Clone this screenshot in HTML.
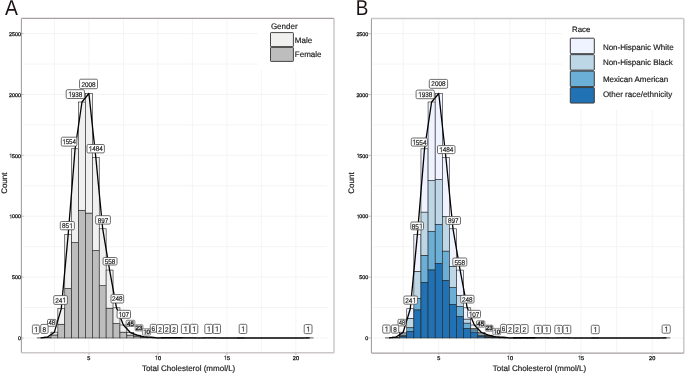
<!DOCTYPE html><html><head><meta charset="utf-8"><style>html,body{margin:0;padding:0;background:#fff;}svg{display:block;will-change:transform;}text{font-family:"Liberation Sans", sans-serif;text-rendering:geometricPrecision;fill:#1c1c1c;stroke:#1c1c1c;stroke-width:0.18px;}</style></head><body>
<svg width="685" height="373" viewBox="0 0 685 373">
<rect width="685" height="373" fill="#fff"/>
<rect x="21.4" y="18.4" width="312.8" height="334.6" fill="#fff"/>
<line x1="54.40" y1="18.4" x2="54.40" y2="353.0" stroke="#f5f4f2" stroke-width="1.0"/>
<line x1="88.90" y1="18.4" x2="88.90" y2="353.0" stroke="#f5f4f2" stroke-width="1.0"/>
<line x1="123.40" y1="18.4" x2="123.40" y2="353.0" stroke="#f5f4f2" stroke-width="1.0"/>
<line x1="157.90" y1="18.4" x2="157.90" y2="353.0" stroke="#f5f4f2" stroke-width="1.0"/>
<line x1="192.40" y1="18.4" x2="192.40" y2="353.0" stroke="#f5f4f2" stroke-width="1.0"/>
<line x1="226.90" y1="18.4" x2="226.90" y2="353.0" stroke="#f5f4f2" stroke-width="1.0"/>
<line x1="261.40" y1="18.4" x2="261.40" y2="353.0" stroke="#f5f4f2" stroke-width="1.0"/>
<line x1="295.90" y1="18.4" x2="295.90" y2="353.0" stroke="#f5f4f2" stroke-width="1.0"/>
<line x1="23.5" y1="338.00" x2="327.1" y2="338.00" stroke="#f5f4f2" stroke-width="1.0"/>
<line x1="23.5" y1="307.56" x2="327.1" y2="307.56" stroke="#f5f4f2" stroke-width="1.0"/>
<line x1="23.5" y1="277.12" x2="327.1" y2="277.12" stroke="#f5f4f2" stroke-width="1.0"/>
<line x1="23.5" y1="246.68" x2="327.1" y2="246.68" stroke="#f5f4f2" stroke-width="1.0"/>
<line x1="23.5" y1="216.24" x2="327.1" y2="216.24" stroke="#f5f4f2" stroke-width="1.0"/>
<line x1="23.5" y1="185.80" x2="327.1" y2="185.80" stroke="#f5f4f2" stroke-width="1.0"/>
<line x1="23.5" y1="155.36" x2="327.1" y2="155.36" stroke="#f5f4f2" stroke-width="1.0"/>
<line x1="23.5" y1="124.92" x2="327.1" y2="124.92" stroke="#f5f4f2" stroke-width="1.0"/>
<line x1="23.5" y1="94.48" x2="327.1" y2="94.48" stroke="#f5f4f2" stroke-width="1.0"/>
<line x1="23.5" y1="64.04" x2="327.1" y2="64.04" stroke="#f5f4f2" stroke-width="1.0"/>
<line x1="23.5" y1="33.60" x2="327.1" y2="33.60" stroke="#f5f4f2" stroke-width="1.0"/>
<rect x="258.2" y="18.4" width="76.0" height="51.6" fill="#fff"/>
<rect x="37.15" y="337.88" width="6.90" height="0.12" fill="#BDBDBD" stroke="#222" stroke-width="0.6"/>
<rect x="37.15" y="337.88" width="6.90" height="0.00" fill="#F0F0F0" stroke="#222" stroke-width="0.6"/>
<rect x="44.05" y="337.39" width="6.90" height="0.61" fill="#BDBDBD" stroke="#222" stroke-width="0.6"/>
<rect x="44.05" y="337.03" width="6.90" height="0.37" fill="#F0F0F0" stroke="#222" stroke-width="0.6"/>
<rect x="50.95" y="334.96" width="6.90" height="3.04" fill="#BDBDBD" stroke="#222" stroke-width="0.6"/>
<rect x="50.95" y="332.16" width="6.90" height="2.80" fill="#F0F0F0" stroke="#222" stroke-width="0.6"/>
<rect x="57.85" y="324.24" width="6.90" height="13.76" fill="#BDBDBD" stroke="#222" stroke-width="0.6"/>
<rect x="57.85" y="308.66" width="6.90" height="15.59" fill="#F0F0F0" stroke="#222" stroke-width="0.6"/>
<rect x="64.75" y="288.44" width="6.90" height="49.56" fill="#BDBDBD" stroke="#222" stroke-width="0.6"/>
<rect x="64.75" y="234.38" width="6.90" height="54.06" fill="#F0F0F0" stroke="#222" stroke-width="0.6"/>
<rect x="71.65" y="242.54" width="6.90" height="95.46" fill="#BDBDBD" stroke="#222" stroke-width="0.6"/>
<rect x="71.65" y="148.78" width="6.90" height="93.76" fill="#F0F0F0" stroke="#222" stroke-width="0.6"/>
<rect x="78.55" y="210.27" width="6.90" height="127.73" fill="#BDBDBD" stroke="#222" stroke-width="0.6"/>
<rect x="78.55" y="102.03" width="6.90" height="108.24" fill="#F0F0F0" stroke="#222" stroke-width="0.6"/>
<rect x="85.45" y="213.07" width="6.90" height="124.93" fill="#BDBDBD" stroke="#222" stroke-width="0.6"/>
<rect x="85.45" y="93.51" width="6.90" height="119.57" fill="#F0F0F0" stroke="#222" stroke-width="0.6"/>
<rect x="92.35" y="250.45" width="6.90" height="87.55" fill="#BDBDBD" stroke="#222" stroke-width="0.6"/>
<rect x="92.35" y="157.31" width="6.90" height="93.15" fill="#F0F0F0" stroke="#222" stroke-width="0.6"/>
<rect x="99.25" y="285.64" width="6.90" height="52.36" fill="#BDBDBD" stroke="#222" stroke-width="0.6"/>
<rect x="99.25" y="228.78" width="6.90" height="56.86" fill="#F0F0F0" stroke="#222" stroke-width="0.6"/>
<rect x="106.15" y="308.17" width="6.90" height="29.83" fill="#BDBDBD" stroke="#222" stroke-width="0.6"/>
<rect x="106.15" y="270.06" width="6.90" height="38.11" fill="#F0F0F0" stroke="#222" stroke-width="0.6"/>
<rect x="113.05" y="323.51" width="6.90" height="14.49" fill="#BDBDBD" stroke="#222" stroke-width="0.6"/>
<rect x="113.05" y="307.80" width="6.90" height="15.71" fill="#F0F0F0" stroke="#222" stroke-width="0.6"/>
<rect x="119.95" y="332.16" width="6.90" height="5.84" fill="#BDBDBD" stroke="#222" stroke-width="0.6"/>
<rect x="119.95" y="324.97" width="6.90" height="7.18" fill="#F0F0F0" stroke="#222" stroke-width="0.6"/>
<rect x="126.85" y="335.08" width="6.90" height="2.92" fill="#BDBDBD" stroke="#222" stroke-width="0.6"/>
<rect x="126.85" y="332.52" width="6.90" height="2.56" fill="#F0F0F0" stroke="#222" stroke-width="0.6"/>
<rect x="133.75" y="336.54" width="6.90" height="1.46" fill="#BDBDBD" stroke="#222" stroke-width="0.6"/>
<rect x="133.75" y="335.20" width="6.90" height="1.34" fill="#F0F0F0" stroke="#222" stroke-width="0.6"/>
<rect x="140.65" y="337.39" width="6.90" height="0.61" fill="#BDBDBD" stroke="#222" stroke-width="0.6"/>
<rect x="140.65" y="336.78" width="6.90" height="0.61" fill="#F0F0F0" stroke="#222" stroke-width="0.6"/>
<rect x="147.55" y="337.63" width="6.90" height="0.37" fill="#BDBDBD" stroke="#222" stroke-width="0.6"/>
<rect x="147.55" y="337.27" width="6.90" height="0.37" fill="#F0F0F0" stroke="#222" stroke-width="0.6"/>
<rect x="161.35" y="337.88" width="6.90" height="0.12" fill="#BDBDBD" stroke="#222" stroke-width="0.6"/>
<rect x="161.35" y="337.76" width="6.90" height="0.12" fill="#F0F0F0" stroke="#222" stroke-width="0.6"/>
<rect x="168.25" y="337.88" width="6.90" height="0.12" fill="#BDBDBD" stroke="#222" stroke-width="0.6"/>
<rect x="168.25" y="337.76" width="6.90" height="0.12" fill="#F0F0F0" stroke="#222" stroke-width="0.6"/>
<rect x="175.15" y="337.88" width="6.90" height="0.12" fill="#BDBDBD" stroke="#222" stroke-width="0.6"/>
<rect x="175.15" y="337.76" width="6.90" height="0.12" fill="#F0F0F0" stroke="#222" stroke-width="0.6"/>
<rect x="182.05" y="337.88" width="6.90" height="0.12" fill="#BDBDBD" stroke="#222" stroke-width="0.6"/>
<rect x="182.05" y="337.88" width="6.90" height="0.00" fill="#F0F0F0" stroke="#222" stroke-width="0.6"/>
<rect x="188.95" y="338.00" width="6.90" height="0.00" fill="#BDBDBD" stroke="#222" stroke-width="0.6"/>
<rect x="188.95" y="337.88" width="6.90" height="0.12" fill="#F0F0F0" stroke="#222" stroke-width="0.6"/>
<rect x="202.75" y="337.88" width="6.90" height="0.12" fill="#BDBDBD" stroke="#222" stroke-width="0.6"/>
<rect x="202.75" y="337.88" width="6.90" height="0.00" fill="#F0F0F0" stroke="#222" stroke-width="0.6"/>
<rect x="209.65" y="338.00" width="6.90" height="0.00" fill="#BDBDBD" stroke="#222" stroke-width="0.6"/>
<rect x="209.65" y="337.88" width="6.90" height="0.12" fill="#F0F0F0" stroke="#222" stroke-width="0.6"/>
<rect x="237.25" y="337.88" width="6.90" height="0.12" fill="#BDBDBD" stroke="#222" stroke-width="0.6"/>
<rect x="237.25" y="337.88" width="6.90" height="0.00" fill="#F0F0F0" stroke="#222" stroke-width="0.6"/>
<rect x="306.25" y="337.88" width="6.90" height="0.12" fill="#BDBDBD" stroke="#222" stroke-width="0.6"/>
<rect x="306.25" y="337.88" width="6.90" height="0.00" fill="#F0F0F0" stroke="#222" stroke-width="0.6"/>
<polyline points="40.60,337.88 47.50,337.03 54.40,332.16 61.30,308.66 68.20,234.38 75.10,148.78 82.00,102.03 88.90,93.51 95.80,157.31 102.70,228.78 109.60,270.06 116.50,307.80 123.40,324.97 130.30,332.52 137.20,335.20 144.10,336.78 151.00,337.27 157.90,338.00 164.80,337.76 171.70,337.76 178.60,337.76 185.50,337.88 192.40,337.88 199.30,338.00 206.20,337.88 213.10,337.88 220.00,338.00 226.90,338.00 233.80,338.00 240.70,337.88 247.60,338.00 254.50,338.00 261.40,338.00 268.30,338.00 275.20,338.00 282.10,338.00 289.00,338.00 295.90,338.00 302.80,338.00 309.70,337.88" fill="none" stroke="#000" stroke-width="1.3" stroke-linejoin="round"/>
<rect x="32.40" y="325.00" width="7.00" height="8.80" rx="1.3" fill="#fff" stroke="#4a4a4a" stroke-width="0.8"/>
<path d="M36.03,331.90 L36.64,331.90 L36.64,327.03 L36.19,327.03 Z M36.19,327.03 L36.48,327.14 L36.03,327.65 L34.81,328.50 L34.81,327.92 L35.71,327.38 Z" fill="#1c1c1c" stroke="#1c1c1c" stroke-width="0.18" stroke-linejoin="round"/>
<rect x="47.50" y="319.40" width="8.60" height="6.90" rx="1.3" fill="#fff" stroke="#4a4a4a" stroke-width="0.8"/>
<text transform="translate(50.12,325.45) scale(0.886,1)" font-size="6.8" text-anchor="middle">4</text>
<text transform="translate(53.47,325.45) scale(0.886,1)" font-size="6.8" text-anchor="middle">8</text>
<rect x="40.70" y="324.40" width="7.40" height="9.00" rx="1.3" fill="#fff" stroke="#4a4a4a" stroke-width="0.8"/>
<text transform="translate(44.40,331.50) scale(0.940,1)" font-size="6.8" text-anchor="middle">8</text>
<rect x="53.75" y="295.60" width="13.65" height="8.80" rx="1.3" fill="#fff" stroke="#4a4a4a" stroke-width="0.8"/>
<text transform="translate(57.02,302.60) scale(0.940,1)" font-size="6.8" text-anchor="middle">2</text>
<text transform="translate(60.58,302.60) scale(0.940,1)" font-size="6.8" text-anchor="middle">4</text>
<path d="M64.26,302.60 L64.86,302.60 L64.86,297.73 L64.42,297.73 Z M64.42,297.73 L64.70,297.84 L64.26,298.35 L63.04,299.20 L63.04,298.62 L63.94,298.08 Z" fill="#1c1c1c" stroke="#1c1c1c" stroke-width="0.18" stroke-linejoin="round"/>
<rect x="60.30" y="221.50" width="14.10" height="8.30" rx="1.3" fill="#fff" stroke="#4a4a4a" stroke-width="0.8"/>
<text transform="translate(63.80,228.25) scale(0.940,1)" font-size="6.8" text-anchor="middle">8</text>
<text transform="translate(67.35,228.25) scale(0.940,1)" font-size="6.8" text-anchor="middle">5</text>
<path d="M71.03,228.25 L71.64,228.25 L71.64,223.38 L71.19,223.38 Z M71.19,223.38 L71.48,223.49 L71.03,224.00 L69.82,224.85 L69.82,224.27 L70.71,223.73 Z" fill="#1c1c1c" stroke="#1c1c1c" stroke-width="0.18" stroke-linejoin="round"/>
<rect x="61.30" y="137.20" width="15.60" height="8.90" rx="1.3" fill="#fff" stroke="#4a4a4a" stroke-width="0.8"/>
<path d="M64.09,144.25 L64.67,144.25 L64.67,139.38 L64.24,139.38 Z M64.24,139.38 L64.52,139.49 L64.09,140.00 L62.92,140.85 L62.92,140.27 L63.78,139.73 Z" fill="#1c1c1c" stroke="#1c1c1c" stroke-width="0.18" stroke-linejoin="round"/>
<text transform="translate(67.39,144.25) scale(0.906,1)" font-size="6.8" text-anchor="middle">5</text>
<text transform="translate(70.81,144.25) scale(0.906,1)" font-size="6.8" text-anchor="middle">5</text>
<text transform="translate(74.24,144.25) scale(0.906,1)" font-size="6.8" text-anchor="middle">4</text>
<rect x="66.20" y="89.70" width="18.20" height="8.80" rx="1.3" fill="#fff" stroke="#4a4a4a" stroke-width="0.8"/>
<path d="M70.10,96.70 L70.70,96.70 L70.70,91.83 L70.26,91.83 Z M70.26,91.83 L70.54,91.94 L70.10,92.45 L68.88,93.30 L68.88,92.72 L69.78,92.18 Z" fill="#1c1c1c" stroke="#1c1c1c" stroke-width="0.18" stroke-linejoin="round"/>
<text transform="translate(73.52,96.70) scale(0.940,1)" font-size="6.8" text-anchor="middle">9</text>
<text transform="translate(77.08,96.70) scale(0.940,1)" font-size="6.8" text-anchor="middle">3</text>
<text transform="translate(80.63,96.70) scale(0.940,1)" font-size="6.8" text-anchor="middle">8</text>
<rect x="79.55" y="79.20" width="17.95" height="9.50" rx="1.3" fill="#fff" stroke="#4a4a4a" stroke-width="0.8"/>
<text transform="translate(83.19,86.55) scale(0.940,1)" font-size="6.8" text-anchor="middle">2</text>
<text transform="translate(86.75,86.55) scale(0.940,1)" font-size="6.8" text-anchor="middle">0</text>
<text transform="translate(90.30,86.55) scale(0.940,1)" font-size="6.8" text-anchor="middle">0</text>
<text transform="translate(93.86,86.55) scale(0.940,1)" font-size="6.8" text-anchor="middle">8</text>
<rect x="87.00" y="144.50" width="17.40" height="8.40" rx="1.3" fill="#fff" stroke="#4a4a4a" stroke-width="0.8"/>
<path d="M90.50,151.30 L91.10,151.30 L91.10,146.43 L90.66,146.43 Z M90.66,146.43 L90.94,146.54 L90.50,147.05 L89.28,147.90 L89.28,147.32 L90.18,146.78 Z" fill="#1c1c1c" stroke="#1c1c1c" stroke-width="0.18" stroke-linejoin="round"/>
<text transform="translate(93.92,151.30) scale(0.940,1)" font-size="6.8" text-anchor="middle">4</text>
<text transform="translate(97.48,151.30) scale(0.940,1)" font-size="6.8" text-anchor="middle">8</text>
<text transform="translate(101.03,151.30) scale(0.940,1)" font-size="6.8" text-anchor="middle">4</text>
<rect x="95.60" y="215.70" width="14.80" height="8.40" rx="1.3" fill="#fff" stroke="#4a4a4a" stroke-width="0.8"/>
<text transform="translate(99.45,222.50) scale(0.940,1)" font-size="6.8" text-anchor="middle">8</text>
<text transform="translate(103.00,222.50) scale(0.940,1)" font-size="6.8" text-anchor="middle">9</text>
<text transform="translate(106.55,222.50) scale(0.940,1)" font-size="6.8" text-anchor="middle">7</text>
<rect x="103.10" y="257.50" width="13.90" height="7.50" rx="1.3" fill="#fff" stroke="#4a4a4a" stroke-width="0.8"/>
<text transform="translate(106.50,263.85) scale(0.940,1)" font-size="6.8" text-anchor="middle">5</text>
<text transform="translate(110.05,263.85) scale(0.940,1)" font-size="6.8" text-anchor="middle">5</text>
<text transform="translate(113.60,263.85) scale(0.940,1)" font-size="6.8" text-anchor="middle">8</text>
<rect x="111.00" y="294.60" width="12.70" height="8.40" rx="1.3" fill="#fff" stroke="#4a4a4a" stroke-width="0.8"/>
<text transform="translate(113.80,301.40) scale(0.940,1)" font-size="6.8" text-anchor="middle">2</text>
<text transform="translate(117.35,301.40) scale(0.940,1)" font-size="6.8" text-anchor="middle">4</text>
<text transform="translate(120.90,301.40) scale(0.940,1)" font-size="6.8" text-anchor="middle">8</text>
<rect x="117.10" y="310.30" width="13.40" height="8.00" rx="1.3" fill="#fff" stroke="#4a4a4a" stroke-width="0.8"/>
<path d="M120.37,316.90 L120.98,316.90 L120.98,312.03 L120.53,312.03 Z M120.53,312.03 L120.82,312.14 L120.37,312.65 L119.16,313.50 L119.16,312.92 L120.05,312.38 Z" fill="#1c1c1c" stroke="#1c1c1c" stroke-width="0.18" stroke-linejoin="round"/>
<text transform="translate(123.80,316.90) scale(0.940,1)" font-size="6.8" text-anchor="middle">0</text>
<text transform="translate(127.35,316.90) scale(0.940,1)" font-size="6.8" text-anchor="middle">7</text>
<rect x="126.10" y="320.30" width="8.80" height="6.10" rx="1.0" fill="#e6e6e6" stroke="#555" stroke-width="0.7"/>
<text transform="translate(128.78,325.60) scale(1.000,1)" font-size="6.2" text-anchor="middle" style="stroke-width:0.35px">4</text>
<text transform="translate(132.22,325.60) scale(1.000,1)" font-size="6.2" text-anchor="middle" style="stroke-width:0.35px">5</text>
<rect x="135.10" y="324.60" width="7.90" height="6.40" rx="1.0" fill="#d4d4d4" stroke="#777" stroke-width="0.7"/>
<text transform="translate(137.33,330.05) scale(1.000,1)" font-size="6.2" text-anchor="middle" style="stroke-width:0.35px">2</text>
<text transform="translate(140.77,330.05) scale(1.000,1)" font-size="6.2" text-anchor="middle" style="stroke-width:0.35px">3</text>
<rect x="142.40" y="328.70" width="8.20" height="6.40" rx="1.0" fill="#efefef" stroke="#666" stroke-width="0.7"/>
<path d="M144.90,334.15 L145.49,334.15 L145.49,329.71 L145.06,329.71 Z M145.06,329.71 L145.33,329.81 L144.90,330.27 L143.72,331.05 L143.72,330.52 L144.59,330.03 Z" fill="#1c1c1c" stroke="#1c1c1c" stroke-width="0.18" stroke-linejoin="round"/>
<text transform="translate(148.22,334.15) scale(1.000,1)" font-size="6.2" text-anchor="middle" style="stroke-width:0.35px">0</text>
<rect x="150.30" y="324.30" width="6.20" height="7.90" rx="1.3" fill="#fff" stroke="#4a4a4a" stroke-width="0.8"/>
<text transform="translate(153.40,330.85) scale(0.940,1)" font-size="6.8" text-anchor="middle">6</text>
<rect x="156.50" y="324.60" width="7.00" height="8.80" rx="1.3" fill="#fff" stroke="#4a4a4a" stroke-width="0.8"/>
<text transform="translate(160.00,331.60) scale(0.940,1)" font-size="6.8" text-anchor="middle">2</text>
<rect x="163.50" y="324.60" width="6.50" height="8.80" rx="1.3" fill="#fff" stroke="#4a4a4a" stroke-width="0.8"/>
<text transform="translate(166.75,331.60) scale(0.940,1)" font-size="6.8" text-anchor="middle">2</text>
<rect x="170.50" y="324.60" width="7.00" height="8.80" rx="1.3" fill="#fff" stroke="#4a4a4a" stroke-width="0.8"/>
<text transform="translate(174.00,331.60) scale(0.940,1)" font-size="6.8" text-anchor="middle">2</text>
<rect x="181.40" y="324.30" width="8.20" height="9.20" rx="1.3" fill="#fff" stroke="#4a4a4a" stroke-width="0.8"/>
<path d="M185.63,331.40 L186.24,331.40 L186.24,326.53 L185.79,326.53 Z M185.79,326.53 L186.08,326.64 L185.63,327.15 L184.41,328.00 L184.41,327.42 L185.31,326.88 Z" fill="#1c1c1c" stroke="#1c1c1c" stroke-width="0.18" stroke-linejoin="round"/>
<rect x="190.20" y="324.30" width="7.60" height="9.20" rx="1.3" fill="#fff" stroke="#4a4a4a" stroke-width="0.8"/>
<path d="M194.13,331.40 L194.74,331.40 L194.74,326.53 L194.29,326.53 Z M194.29,326.53 L194.58,326.64 L194.13,327.15 L192.91,328.00 L192.91,327.42 L193.81,326.88 Z" fill="#1c1c1c" stroke="#1c1c1c" stroke-width="0.18" stroke-linejoin="round"/>
<rect x="204.80" y="324.30" width="7.80" height="9.20" rx="1.3" fill="#fff" stroke="#4a4a4a" stroke-width="0.8"/>
<path d="M208.83,331.40 L209.44,331.40 L209.44,326.53 L208.99,326.53 Z M208.99,326.53 L209.28,326.64 L208.83,327.15 L207.61,328.00 L207.61,327.42 L208.51,326.88 Z" fill="#1c1c1c" stroke="#1c1c1c" stroke-width="0.18" stroke-linejoin="round"/>
<rect x="213.00" y="324.30" width="7.50" height="9.20" rx="1.3" fill="#fff" stroke="#4a4a4a" stroke-width="0.8"/>
<path d="M216.88,331.40 L217.49,331.40 L217.49,326.53 L217.04,326.53 Z M217.04,326.53 L217.33,326.64 L216.88,327.15 L215.66,328.00 L215.66,327.42 L216.56,326.88 Z" fill="#1c1c1c" stroke="#1c1c1c" stroke-width="0.18" stroke-linejoin="round"/>
<rect x="239.20" y="324.30" width="7.60" height="9.20" rx="1.3" fill="#fff" stroke="#4a4a4a" stroke-width="0.8"/>
<path d="M243.13,331.40 L243.74,331.40 L243.74,326.53 L243.29,326.53 Z M243.29,326.53 L243.58,326.64 L243.13,327.15 L241.91,328.00 L241.91,327.42 L242.81,326.88 Z" fill="#1c1c1c" stroke="#1c1c1c" stroke-width="0.18" stroke-linejoin="round"/>
<rect x="304.20" y="324.60" width="7.80" height="9.00" rx="1.3" fill="#fff" stroke="#4a4a4a" stroke-width="0.8"/>
<path d="M308.23,331.60 L308.84,331.60 L308.84,326.73 L308.39,326.73 Z M308.39,326.73 L308.68,326.84 L308.23,327.35 L307.01,328.20 L307.01,327.62 L307.91,327.08 Z" fill="#1c1c1c" stroke="#1c1c1c" stroke-width="0.18" stroke-linejoin="round"/>
<line x1="21.4" y1="18.4" x2="334.0" y2="18.4" stroke="#a6a0a0" stroke-width="1.1"/>
<line x1="21.4" y1="18.4" x2="21.4" y2="352.8" stroke="#a6a0a0" stroke-width="1.1"/>
<line x1="334.0" y1="18.4" x2="334.0" y2="352.8" stroke="#cbc7c6" stroke-width="1.5"/>
<line x1="21.4" y1="352.8" x2="334.0" y2="352.8" stroke="#cbc7c6" stroke-width="1.5"/>
<rect x="371.2" y="18.7" width="312.90000000000003" height="334.2" fill="#fff"/>
<line x1="403.18" y1="18.7" x2="403.18" y2="352.9" stroke="#f5f4f2" stroke-width="1.0"/>
<line x1="438.75" y1="18.7" x2="438.75" y2="352.9" stroke="#f5f4f2" stroke-width="1.0"/>
<line x1="474.33" y1="18.7" x2="474.33" y2="352.9" stroke="#f5f4f2" stroke-width="1.0"/>
<line x1="509.90" y1="18.7" x2="509.90" y2="352.9" stroke="#f5f4f2" stroke-width="1.0"/>
<line x1="545.48" y1="18.7" x2="545.48" y2="352.9" stroke="#f5f4f2" stroke-width="1.0"/>
<line x1="581.05" y1="18.7" x2="581.05" y2="352.9" stroke="#f5f4f2" stroke-width="1.0"/>
<line x1="616.62" y1="18.7" x2="616.62" y2="352.9" stroke="#f5f4f2" stroke-width="1.0"/>
<line x1="652.20" y1="18.7" x2="652.20" y2="352.9" stroke="#f5f4f2" stroke-width="1.0"/>
<line x1="373.0" y1="338.00" x2="683.8" y2="338.00" stroke="#f5f4f2" stroke-width="1.0"/>
<line x1="373.0" y1="307.56" x2="683.8" y2="307.56" stroke="#f5f4f2" stroke-width="1.0"/>
<line x1="373.0" y1="277.12" x2="683.8" y2="277.12" stroke="#f5f4f2" stroke-width="1.0"/>
<line x1="373.0" y1="246.68" x2="683.8" y2="246.68" stroke="#f5f4f2" stroke-width="1.0"/>
<line x1="373.0" y1="216.24" x2="683.8" y2="216.24" stroke="#f5f4f2" stroke-width="1.0"/>
<line x1="373.0" y1="185.80" x2="683.8" y2="185.80" stroke="#f5f4f2" stroke-width="1.0"/>
<line x1="373.0" y1="155.36" x2="683.8" y2="155.36" stroke="#f5f4f2" stroke-width="1.0"/>
<line x1="373.0" y1="124.92" x2="683.8" y2="124.92" stroke="#f5f4f2" stroke-width="1.0"/>
<line x1="373.0" y1="94.48" x2="683.8" y2="94.48" stroke="#f5f4f2" stroke-width="1.0"/>
<line x1="373.0" y1="64.04" x2="683.8" y2="64.04" stroke="#f5f4f2" stroke-width="1.0"/>
<line x1="373.0" y1="33.60" x2="683.8" y2="33.60" stroke="#f5f4f2" stroke-width="1.0"/>
<rect x="562.6" y="18.7" width="121.5" height="91.2" fill="#fff"/>
<rect x="385.39" y="337.88" width="7.12" height="0.12" fill="#2171B5" stroke="#222" stroke-width="0.6"/>
<rect x="392.50" y="337.03" width="7.12" height="0.37" fill="#EFF3FF" stroke="#222" stroke-width="0.6"/>
<rect x="392.50" y="337.40" width="7.12" height="0.20" fill="#BDD7E7" stroke="#222" stroke-width="0.6"/>
<rect x="392.50" y="337.60" width="7.12" height="0.20" fill="#6BAED6" stroke="#222" stroke-width="0.6"/>
<rect x="392.50" y="337.80" width="7.12" height="0.20" fill="#2171B5" stroke="#222" stroke-width="0.6"/>
<rect x="399.62" y="332.20" width="7.12" height="1.80" fill="#EFF3FF" stroke="#222" stroke-width="0.6"/>
<rect x="399.62" y="334.00" width="7.12" height="1.50" fill="#BDD7E7" stroke="#222" stroke-width="0.6"/>
<rect x="399.62" y="335.50" width="7.12" height="1.00" fill="#6BAED6" stroke="#222" stroke-width="0.6"/>
<rect x="399.62" y="336.50" width="7.12" height="1.50" fill="#2171B5" stroke="#222" stroke-width="0.6"/>
<rect x="406.73" y="308.70" width="7.12" height="10.00" fill="#EFF3FF" stroke="#222" stroke-width="0.6"/>
<rect x="406.73" y="318.70" width="7.12" height="9.10" fill="#BDD7E7" stroke="#222" stroke-width="0.6"/>
<rect x="406.73" y="327.80" width="7.12" height="3.50" fill="#6BAED6" stroke="#222" stroke-width="0.6"/>
<rect x="406.73" y="331.30" width="7.12" height="6.70" fill="#2171B5" stroke="#222" stroke-width="0.6"/>
<rect x="413.85" y="234.40" width="7.12" height="37.20" fill="#EFF3FF" stroke="#222" stroke-width="0.6"/>
<rect x="413.85" y="271.60" width="7.12" height="26.70" fill="#BDD7E7" stroke="#222" stroke-width="0.6"/>
<rect x="413.85" y="298.30" width="7.12" height="11.70" fill="#6BAED6" stroke="#222" stroke-width="0.6"/>
<rect x="413.85" y="310.00" width="7.12" height="28.00" fill="#2171B5" stroke="#222" stroke-width="0.6"/>
<rect x="420.96" y="148.80" width="7.12" height="63.40" fill="#EFF3FF" stroke="#222" stroke-width="0.6"/>
<rect x="420.96" y="212.20" width="7.12" height="43.50" fill="#BDD7E7" stroke="#222" stroke-width="0.6"/>
<rect x="420.96" y="255.70" width="7.12" height="26.80" fill="#6BAED6" stroke="#222" stroke-width="0.6"/>
<rect x="420.96" y="282.50" width="7.12" height="55.50" fill="#2171B5" stroke="#222" stroke-width="0.6"/>
<rect x="428.08" y="102.00" width="7.12" height="78.30" fill="#EFF3FF" stroke="#222" stroke-width="0.6"/>
<rect x="428.08" y="180.30" width="7.12" height="51.00" fill="#BDD7E7" stroke="#222" stroke-width="0.6"/>
<rect x="428.08" y="231.30" width="7.12" height="38.70" fill="#6BAED6" stroke="#222" stroke-width="0.6"/>
<rect x="428.08" y="270.00" width="7.12" height="68.00" fill="#2171B5" stroke="#222" stroke-width="0.6"/>
<rect x="435.19" y="93.50" width="7.12" height="85.90" fill="#EFF3FF" stroke="#222" stroke-width="0.6"/>
<rect x="435.19" y="179.40" width="7.12" height="45.00" fill="#BDD7E7" stroke="#222" stroke-width="0.6"/>
<rect x="435.19" y="224.40" width="7.12" height="39.00" fill="#6BAED6" stroke="#222" stroke-width="0.6"/>
<rect x="435.19" y="263.40" width="7.12" height="74.60" fill="#2171B5" stroke="#222" stroke-width="0.6"/>
<rect x="442.31" y="157.30" width="7.12" height="59.20" fill="#EFF3FF" stroke="#222" stroke-width="0.6"/>
<rect x="442.31" y="216.50" width="7.12" height="34.70" fill="#BDD7E7" stroke="#222" stroke-width="0.6"/>
<rect x="442.31" y="251.20" width="7.12" height="29.10" fill="#6BAED6" stroke="#222" stroke-width="0.6"/>
<rect x="442.31" y="280.30" width="7.12" height="57.70" fill="#2171B5" stroke="#222" stroke-width="0.6"/>
<rect x="449.42" y="228.80" width="7.12" height="37.80" fill="#EFF3FF" stroke="#222" stroke-width="0.6"/>
<rect x="449.42" y="266.60" width="7.12" height="20.70" fill="#BDD7E7" stroke="#222" stroke-width="0.6"/>
<rect x="449.42" y="287.30" width="7.12" height="17.00" fill="#6BAED6" stroke="#222" stroke-width="0.6"/>
<rect x="449.42" y="304.30" width="7.12" height="33.70" fill="#2171B5" stroke="#222" stroke-width="0.6"/>
<rect x="456.54" y="270.10" width="7.12" height="25.50" fill="#EFF3FF" stroke="#222" stroke-width="0.6"/>
<rect x="456.54" y="295.60" width="7.12" height="10.70" fill="#BDD7E7" stroke="#222" stroke-width="0.6"/>
<rect x="456.54" y="306.30" width="7.12" height="10.10" fill="#6BAED6" stroke="#222" stroke-width="0.6"/>
<rect x="456.54" y="316.40" width="7.12" height="21.60" fill="#2171B5" stroke="#222" stroke-width="0.6"/>
<rect x="463.65" y="307.80" width="7.12" height="11.40" fill="#EFF3FF" stroke="#222" stroke-width="0.6"/>
<rect x="463.65" y="319.20" width="7.12" height="4.00" fill="#BDD7E7" stroke="#222" stroke-width="0.6"/>
<rect x="463.65" y="323.20" width="7.12" height="5.20" fill="#6BAED6" stroke="#222" stroke-width="0.6"/>
<rect x="463.65" y="328.40" width="7.12" height="9.60" fill="#2171B5" stroke="#222" stroke-width="0.6"/>
<rect x="470.77" y="325.00" width="7.12" height="3.40" fill="#EFF3FF" stroke="#222" stroke-width="0.6"/>
<rect x="470.77" y="328.40" width="7.12" height="1.60" fill="#BDD7E7" stroke="#222" stroke-width="0.6"/>
<rect x="470.77" y="330.00" width="7.12" height="2.20" fill="#6BAED6" stroke="#222" stroke-width="0.6"/>
<rect x="470.77" y="332.20" width="7.12" height="5.80" fill="#2171B5" stroke="#222" stroke-width="0.6"/>
<rect x="477.88" y="332.50" width="7.12" height="1.50" fill="#EFF3FF" stroke="#222" stroke-width="0.6"/>
<rect x="477.88" y="334.00" width="7.12" height="1.30" fill="#BDD7E7" stroke="#222" stroke-width="0.6"/>
<rect x="477.88" y="335.30" width="7.12" height="1.00" fill="#6BAED6" stroke="#222" stroke-width="0.6"/>
<rect x="477.88" y="336.30" width="7.12" height="1.70" fill="#2171B5" stroke="#222" stroke-width="0.6"/>
<rect x="485.00" y="335.20" width="7.12" height="0.80" fill="#EFF3FF" stroke="#222" stroke-width="0.6"/>
<rect x="485.00" y="336.00" width="7.12" height="0.80" fill="#BDD7E7" stroke="#222" stroke-width="0.6"/>
<rect x="485.00" y="336.80" width="7.12" height="0.50" fill="#6BAED6" stroke="#222" stroke-width="0.6"/>
<rect x="485.00" y="337.30" width="7.12" height="0.70" fill="#2171B5" stroke="#222" stroke-width="0.6"/>
<rect x="492.11" y="336.80" width="7.12" height="0.40" fill="#EFF3FF" stroke="#222" stroke-width="0.6"/>
<rect x="492.11" y="337.20" width="7.12" height="0.30" fill="#BDD7E7" stroke="#222" stroke-width="0.6"/>
<rect x="492.11" y="337.50" width="7.12" height="0.30" fill="#6BAED6" stroke="#222" stroke-width="0.6"/>
<rect x="492.11" y="337.80" width="7.12" height="0.20" fill="#2171B5" stroke="#222" stroke-width="0.6"/>
<rect x="499.23" y="337.27" width="7.12" height="0.23" fill="#EFF3FF" stroke="#222" stroke-width="0.6"/>
<rect x="499.23" y="337.50" width="7.12" height="0.20" fill="#BDD7E7" stroke="#222" stroke-width="0.6"/>
<rect x="499.23" y="337.70" width="7.12" height="0.20" fill="#6BAED6" stroke="#222" stroke-width="0.6"/>
<rect x="499.23" y="337.90" width="7.12" height="0.10" fill="#2171B5" stroke="#222" stroke-width="0.6"/>
<rect x="513.46" y="337.76" width="7.12" height="0.04" fill="#EFF3FF" stroke="#222" stroke-width="0.6"/>
<rect x="513.46" y="337.80" width="7.12" height="0.10" fill="#BDD7E7" stroke="#222" stroke-width="0.6"/>
<rect x="513.46" y="337.90" width="7.12" height="0.05" fill="#6BAED6" stroke="#222" stroke-width="0.6"/>
<rect x="513.46" y="337.95" width="7.12" height="0.05" fill="#2171B5" stroke="#222" stroke-width="0.6"/>
<rect x="520.57" y="337.76" width="7.12" height="0.04" fill="#EFF3FF" stroke="#222" stroke-width="0.6"/>
<rect x="520.57" y="337.80" width="7.12" height="0.10" fill="#BDD7E7" stroke="#222" stroke-width="0.6"/>
<rect x="520.57" y="337.90" width="7.12" height="0.05" fill="#6BAED6" stroke="#222" stroke-width="0.6"/>
<rect x="520.57" y="337.95" width="7.12" height="0.05" fill="#2171B5" stroke="#222" stroke-width="0.6"/>
<rect x="527.69" y="337.76" width="7.12" height="0.04" fill="#EFF3FF" stroke="#222" stroke-width="0.6"/>
<rect x="527.69" y="337.80" width="7.12" height="0.10" fill="#BDD7E7" stroke="#222" stroke-width="0.6"/>
<rect x="527.69" y="337.90" width="7.12" height="0.05" fill="#6BAED6" stroke="#222" stroke-width="0.6"/>
<rect x="527.69" y="337.95" width="7.12" height="0.05" fill="#2171B5" stroke="#222" stroke-width="0.6"/>
<rect x="534.80" y="337.88" width="7.12" height="0.12" fill="#2171B5" stroke="#222" stroke-width="0.6"/>
<rect x="541.92" y="337.88" width="7.12" height="0.12" fill="#2171B5" stroke="#222" stroke-width="0.6"/>
<rect x="556.15" y="337.88" width="7.12" height="0.12" fill="#2171B5" stroke="#222" stroke-width="0.6"/>
<rect x="563.26" y="337.88" width="7.12" height="0.12" fill="#2171B5" stroke="#222" stroke-width="0.6"/>
<rect x="591.72" y="337.88" width="7.12" height="0.12" fill="#2171B5" stroke="#222" stroke-width="0.6"/>
<rect x="662.87" y="337.88" width="7.12" height="0.12" fill="#2171B5" stroke="#222" stroke-width="0.6"/>
<polyline points="388.95,337.88 396.06,337.03 403.18,332.20 410.29,308.70 417.41,234.40 424.52,148.80 431.63,102.00 438.75,93.50 445.87,157.30 452.98,228.80 460.10,270.10 467.21,307.80 474.33,325.00 481.44,332.50 488.56,335.20 495.67,336.80 502.79,337.27 509.90,338.00 517.01,337.76 524.13,337.76 531.25,337.76 538.36,337.88 545.48,337.88 552.59,338.00 559.71,337.88 566.82,337.88 573.94,338.00 581.05,338.00 588.16,338.00 595.28,337.88 602.39,338.00 609.51,338.00 616.62,338.00 623.74,338.00 630.86,338.00 637.97,338.00 645.09,338.00 652.20,338.00 659.32,338.00 666.43,337.88" fill="none" stroke="#000" stroke-width="1.3" stroke-linejoin="round"/>
<rect x="382.70" y="325.00" width="7.50" height="8.10" rx="1.3" fill="#fff" stroke="#4a4a4a" stroke-width="0.8"/>
<path d="M386.58,331.55 L387.19,331.55 L387.19,326.68 L386.74,326.68 Z M386.74,326.68 L387.03,326.79 L386.58,327.30 L385.36,328.15 L385.36,327.57 L386.26,327.03 Z" fill="#1c1c1c" stroke="#1c1c1c" stroke-width="0.18" stroke-linejoin="round"/>
<rect x="398.00" y="319.30" width="7.90" height="6.60" rx="1.3" fill="#fff" stroke="#4a4a4a" stroke-width="0.8"/>
<text transform="translate(400.45,325.20) scale(0.793,1)" font-size="6.8" text-anchor="middle">4</text>
<text transform="translate(403.45,325.20) scale(0.793,1)" font-size="6.8" text-anchor="middle">8</text>
<rect x="391.40" y="325.00" width="7.30" height="8.10" rx="1.3" fill="#fff" stroke="#4a4a4a" stroke-width="0.8"/>
<text transform="translate(395.05,331.65) scale(0.940,1)" font-size="6.8" text-anchor="middle">8</text>
<rect x="403.90" y="296.00" width="13.50" height="8.20" rx="1.3" fill="#fff" stroke="#4a4a4a" stroke-width="0.8"/>
<text transform="translate(407.10,302.70) scale(0.940,1)" font-size="6.8" text-anchor="middle">2</text>
<text transform="translate(410.65,302.70) scale(0.940,1)" font-size="6.8" text-anchor="middle">4</text>
<path d="M414.33,302.70 L414.94,302.70 L414.94,297.83 L414.49,297.83 Z M414.49,297.83 L414.78,297.94 L414.33,298.45 L413.12,299.30 L413.12,298.72 L414.01,298.18 Z" fill="#1c1c1c" stroke="#1c1c1c" stroke-width="0.18" stroke-linejoin="round"/>
<rect x="410.80" y="222.00" width="12.70" height="7.80" rx="1.3" fill="#fff" stroke="#4a4a4a" stroke-width="0.8"/>
<text transform="translate(413.60,228.50) scale(0.940,1)" font-size="6.8" text-anchor="middle">8</text>
<text transform="translate(417.15,228.50) scale(0.940,1)" font-size="6.8" text-anchor="middle">5</text>
<path d="M420.83,228.50 L421.44,228.50 L421.44,223.63 L420.99,223.63 Z M420.99,223.63 L421.28,223.74 L420.83,224.25 L419.62,225.10 L419.62,224.52 L420.51,223.98 Z" fill="#1c1c1c" stroke="#1c1c1c" stroke-width="0.18" stroke-linejoin="round"/>
<rect x="411.30" y="138.00" width="16.10" height="8.10" rx="1.3" fill="#fff" stroke="#4a4a4a" stroke-width="0.8"/>
<path d="M414.15,144.65 L414.76,144.65 L414.76,139.78 L414.31,139.78 Z M414.31,139.78 L414.60,139.89 L414.15,140.40 L412.94,141.25 L412.94,140.67 L413.83,140.13 Z" fill="#1c1c1c" stroke="#1c1c1c" stroke-width="0.18" stroke-linejoin="round"/>
<text transform="translate(417.58,144.65) scale(0.939,1)" font-size="6.8" text-anchor="middle">5</text>
<text transform="translate(421.13,144.65) scale(0.939,1)" font-size="6.8" text-anchor="middle">5</text>
<text transform="translate(424.68,144.65) scale(0.939,1)" font-size="6.8" text-anchor="middle">4</text>
<rect x="416.10" y="90.10" width="18.20" height="8.60" rx="1.3" fill="#fff" stroke="#4a4a4a" stroke-width="0.8"/>
<path d="M420.00,97.00 L420.60,97.00 L420.60,92.13 L420.16,92.13 Z M420.16,92.13 L420.44,92.24 L420.00,92.75 L418.78,93.60 L418.78,93.02 L419.68,92.48 Z" fill="#1c1c1c" stroke="#1c1c1c" stroke-width="0.18" stroke-linejoin="round"/>
<text transform="translate(423.42,97.00) scale(0.940,1)" font-size="6.8" text-anchor="middle">9</text>
<text transform="translate(426.98,97.00) scale(0.940,1)" font-size="6.8" text-anchor="middle">3</text>
<text transform="translate(430.53,97.00) scale(0.940,1)" font-size="6.8" text-anchor="middle">8</text>
<rect x="429.30" y="79.40" width="18.30" height="8.90" rx="1.3" fill="#fff" stroke="#4a4a4a" stroke-width="0.8"/>
<text transform="translate(433.12,86.45) scale(0.940,1)" font-size="6.8" text-anchor="middle">2</text>
<text transform="translate(436.67,86.45) scale(0.940,1)" font-size="6.8" text-anchor="middle">0</text>
<text transform="translate(440.23,86.45) scale(0.940,1)" font-size="6.8" text-anchor="middle">0</text>
<text transform="translate(443.78,86.45) scale(0.940,1)" font-size="6.8" text-anchor="middle">8</text>
<rect x="437.50" y="145.60" width="17.50" height="8.00" rx="1.3" fill="#fff" stroke="#4a4a4a" stroke-width="0.8"/>
<path d="M441.05,152.20 L441.65,152.20 L441.65,147.33 L441.21,147.33 Z M441.21,147.33 L441.49,147.44 L441.05,147.95 L439.83,148.80 L439.83,148.22 L440.73,147.68 Z" fill="#1c1c1c" stroke="#1c1c1c" stroke-width="0.18" stroke-linejoin="round"/>
<text transform="translate(444.47,152.20) scale(0.940,1)" font-size="6.8" text-anchor="middle">4</text>
<text transform="translate(448.03,152.20) scale(0.940,1)" font-size="6.8" text-anchor="middle">8</text>
<text transform="translate(451.58,152.20) scale(0.940,1)" font-size="6.8" text-anchor="middle">4</text>
<rect x="446.00" y="216.60" width="14.50" height="7.80" rx="1.3" fill="#fff" stroke="#4a4a4a" stroke-width="0.8"/>
<text transform="translate(449.70,223.10) scale(0.940,1)" font-size="6.8" text-anchor="middle">8</text>
<text transform="translate(453.25,223.10) scale(0.940,1)" font-size="6.8" text-anchor="middle">9</text>
<text transform="translate(456.80,223.10) scale(0.940,1)" font-size="6.8" text-anchor="middle">7</text>
<rect x="452.80" y="258.00" width="14.00" height="8.00" rx="1.3" fill="#fff" stroke="#4a4a4a" stroke-width="0.8"/>
<text transform="translate(456.25,264.60) scale(0.940,1)" font-size="6.8" text-anchor="middle">5</text>
<text transform="translate(459.80,264.60) scale(0.940,1)" font-size="6.8" text-anchor="middle">5</text>
<text transform="translate(463.35,264.60) scale(0.940,1)" font-size="6.8" text-anchor="middle">8</text>
<rect x="460.70" y="295.30" width="13.30" height="7.70" rx="1.3" fill="#fff" stroke="#4a4a4a" stroke-width="0.8"/>
<text transform="translate(463.80,301.75) scale(0.940,1)" font-size="6.8" text-anchor="middle">2</text>
<text transform="translate(467.35,301.75) scale(0.940,1)" font-size="6.8" text-anchor="middle">4</text>
<text transform="translate(470.90,301.75) scale(0.940,1)" font-size="6.8" text-anchor="middle">8</text>
<rect x="467.60" y="310.30" width="12.90" height="7.50" rx="1.3" fill="#fff" stroke="#4a4a4a" stroke-width="0.8"/>
<path d="M470.62,316.65 L471.23,316.65 L471.23,311.78 L470.78,311.78 Z M470.78,311.78 L471.07,311.89 L470.62,312.40 L469.41,313.25 L469.41,312.67 L470.30,312.13 Z" fill="#1c1c1c" stroke="#1c1c1c" stroke-width="0.18" stroke-linejoin="round"/>
<text transform="translate(474.05,316.65) scale(0.940,1)" font-size="6.8" text-anchor="middle">0</text>
<text transform="translate(477.60,316.65) scale(0.940,1)" font-size="6.8" text-anchor="middle">7</text>
<rect x="476.40" y="320.80" width="8.50" height="6.40" rx="1.0" fill="#e6e6e6" stroke="#555" stroke-width="0.7"/>
<text transform="translate(478.93,326.25) scale(1.000,1)" font-size="6.2" text-anchor="middle" style="stroke-width:0.35px">4</text>
<text transform="translate(482.37,326.25) scale(1.000,1)" font-size="6.2" text-anchor="middle" style="stroke-width:0.35px">5</text>
<rect x="485.40" y="325.10" width="7.60" height="6.20" rx="1.0" fill="#d4d4d4" stroke="#777" stroke-width="0.7"/>
<text transform="translate(487.48,330.45) scale(1.000,1)" font-size="6.2" text-anchor="middle" style="stroke-width:0.35px">2</text>
<text transform="translate(490.92,330.45) scale(1.000,1)" font-size="6.2" text-anchor="middle" style="stroke-width:0.35px">3</text>
<rect x="492.80" y="328.40" width="7.80" height="6.40" rx="1.0" fill="#efefef" stroke="#666" stroke-width="0.7"/>
<path d="M495.10,333.85 L495.69,333.85 L495.69,329.41 L495.26,329.41 Z M495.26,329.41 L495.53,329.51 L495.10,329.98 L493.92,330.75 L493.92,330.22 L494.79,329.73 Z" fill="#1c1c1c" stroke="#1c1c1c" stroke-width="0.18" stroke-linejoin="round"/>
<text transform="translate(498.42,333.85) scale(1.000,1)" font-size="6.2" text-anchor="middle" style="stroke-width:0.35px">0</text>
<rect x="500.60" y="324.30" width="5.90" height="8.10" rx="1.3" fill="#fff" stroke="#4a4a4a" stroke-width="0.8"/>
<text transform="translate(503.55,330.95) scale(0.940,1)" font-size="6.8" text-anchor="middle">6</text>
<rect x="506.50" y="324.60" width="7.30" height="8.80" rx="1.3" fill="#fff" stroke="#4a4a4a" stroke-width="0.8"/>
<text transform="translate(510.15,331.60) scale(0.940,1)" font-size="6.8" text-anchor="middle">2</text>
<rect x="513.80" y="324.60" width="6.70" height="8.80" rx="1.3" fill="#fff" stroke="#4a4a4a" stroke-width="0.8"/>
<text transform="translate(517.15,331.60) scale(0.940,1)" font-size="6.8" text-anchor="middle">2</text>
<rect x="520.50" y="324.60" width="7.60" height="8.80" rx="1.3" fill="#fff" stroke="#4a4a4a" stroke-width="0.8"/>
<text transform="translate(524.30,331.60) scale(0.940,1)" font-size="6.8" text-anchor="middle">2</text>
<rect x="534.30" y="325.30" width="7.60" height="8.40" rx="1.3" fill="#fff" stroke="#4a4a4a" stroke-width="0.8"/>
<path d="M538.23,332.00 L538.84,332.00 L538.84,327.13 L538.39,327.13 Z M538.39,327.13 L538.68,327.24 L538.23,327.75 L537.01,328.60 L537.01,328.02 L537.91,327.48 Z" fill="#1c1c1c" stroke="#1c1c1c" stroke-width="0.18" stroke-linejoin="round"/>
<rect x="542.50" y="325.30" width="8.00" height="8.40" rx="1.3" fill="#fff" stroke="#4a4a4a" stroke-width="0.8"/>
<path d="M546.63,332.00 L547.24,332.00 L547.24,327.13 L546.79,327.13 Z M546.79,327.13 L547.08,327.24 L546.63,327.75 L545.41,328.60 L545.41,328.02 L546.31,327.48 Z" fill="#1c1c1c" stroke="#1c1c1c" stroke-width="0.18" stroke-linejoin="round"/>
<rect x="554.80" y="325.30" width="7.60" height="8.40" rx="1.3" fill="#fff" stroke="#4a4a4a" stroke-width="0.8"/>
<path d="M558.73,332.00 L559.34,332.00 L559.34,327.13 L558.89,327.13 Z M558.89,327.13 L559.18,327.24 L558.73,327.75 L557.51,328.60 L557.51,328.02 L558.41,327.48 Z" fill="#1c1c1c" stroke="#1c1c1c" stroke-width="0.18" stroke-linejoin="round"/>
<rect x="563.00" y="325.30" width="7.80" height="8.40" rx="1.3" fill="#fff" stroke="#4a4a4a" stroke-width="0.8"/>
<path d="M567.03,332.00 L567.64,332.00 L567.64,327.13 L567.19,327.13 Z M567.19,327.13 L567.48,327.24 L567.03,327.75 L565.81,328.60 L565.81,328.02 L566.71,327.48 Z" fill="#1c1c1c" stroke="#1c1c1c" stroke-width="0.18" stroke-linejoin="round"/>
<rect x="591.30" y="325.30" width="7.90" height="8.40" rx="1.3" fill="#fff" stroke="#4a4a4a" stroke-width="0.8"/>
<path d="M595.38,332.00 L595.99,332.00 L595.99,327.13 L595.54,327.13 Z M595.54,327.13 L595.83,327.24 L595.38,327.75 L594.16,328.60 L594.16,328.02 L595.06,327.48 Z" fill="#1c1c1c" stroke="#1c1c1c" stroke-width="0.18" stroke-linejoin="round"/>
<rect x="662.10" y="325.00" width="8.20" height="8.20" rx="1.3" fill="#fff" stroke="#4a4a4a" stroke-width="0.8"/>
<path d="M666.33,331.60 L666.94,331.60 L666.94,326.73 L666.49,326.73 Z M666.49,326.73 L666.78,326.84 L666.33,327.35 L665.11,328.20 L665.11,327.62 L666.01,327.08 Z" fill="#1c1c1c" stroke="#1c1c1c" stroke-width="0.18" stroke-linejoin="round"/>
<line x1="371.45" y1="18.6" x2="683.8" y2="18.6" stroke="#cbc7c6" stroke-width="1.5"/>
<line x1="371.45" y1="18.6" x2="371.45" y2="353.1" stroke="#a6a0a0" stroke-width="1.1"/>
<line x1="683.8" y1="18.6" x2="683.8" y2="353.1" stroke="#cbc7c6" stroke-width="1.5"/>
<line x1="371.45" y1="353.1" x2="683.8" y2="353.1" stroke="#a6a0a0" stroke-width="1.1"/>
<text transform="translate(19.43,340.20) scale(1.000,1)" font-size="5.3" text-anchor="middle" style="stroke-width:0.3px">0</text>
<line x1="21.4" y1="338.00" x2="23.70" y2="338.00" stroke="#999" stroke-width="0.6"/>
<text transform="translate(13.53,279.32) scale(1.000,1)" font-size="5.3" text-anchor="middle" style="stroke-width:0.3px">5</text>
<text transform="translate(16.48,279.32) scale(1.000,1)" font-size="5.3" text-anchor="middle" style="stroke-width:0.3px">0</text>
<text transform="translate(19.43,279.32) scale(1.000,1)" font-size="5.3" text-anchor="middle" style="stroke-width:0.3px">0</text>
<line x1="21.4" y1="277.12" x2="23.70" y2="277.12" stroke="#999" stroke-width="0.6"/>
<path d="M10.69,218.44 L11.20,218.44 L11.20,214.65 L10.82,214.65 Z M10.82,214.65 L11.06,214.73 L10.69,215.13 L9.69,215.79 L9.69,215.34 L10.43,214.92 Z" fill="#1c1c1c" stroke="#1c1c1c" stroke-width="0.18" stroke-linejoin="round"/>
<text transform="translate(13.53,218.44) scale(1.000,1)" font-size="5.3" text-anchor="middle" style="stroke-width:0.3px">0</text>
<text transform="translate(16.48,218.44) scale(1.000,1)" font-size="5.3" text-anchor="middle" style="stroke-width:0.3px">0</text>
<text transform="translate(19.43,218.44) scale(1.000,1)" font-size="5.3" text-anchor="middle" style="stroke-width:0.3px">0</text>
<line x1="21.4" y1="216.24" x2="23.70" y2="216.24" stroke="#999" stroke-width="0.6"/>
<path d="M10.69,157.56 L11.20,157.56 L11.20,153.77 L10.82,153.77 Z M10.82,153.77 L11.06,153.85 L10.69,154.25 L9.69,154.91 L9.69,154.46 L10.43,154.04 Z" fill="#1c1c1c" stroke="#1c1c1c" stroke-width="0.18" stroke-linejoin="round"/>
<text transform="translate(13.53,157.56) scale(1.000,1)" font-size="5.3" text-anchor="middle" style="stroke-width:0.3px">5</text>
<text transform="translate(16.48,157.56) scale(1.000,1)" font-size="5.3" text-anchor="middle" style="stroke-width:0.3px">0</text>
<text transform="translate(19.43,157.56) scale(1.000,1)" font-size="5.3" text-anchor="middle" style="stroke-width:0.3px">0</text>
<line x1="21.4" y1="155.36" x2="23.70" y2="155.36" stroke="#999" stroke-width="0.6"/>
<text transform="translate(10.59,96.68) scale(1.000,1)" font-size="5.3" text-anchor="middle" style="stroke-width:0.3px">2</text>
<text transform="translate(13.53,96.68) scale(1.000,1)" font-size="5.3" text-anchor="middle" style="stroke-width:0.3px">0</text>
<text transform="translate(16.48,96.68) scale(1.000,1)" font-size="5.3" text-anchor="middle" style="stroke-width:0.3px">0</text>
<text transform="translate(19.43,96.68) scale(1.000,1)" font-size="5.3" text-anchor="middle" style="stroke-width:0.3px">0</text>
<line x1="21.4" y1="94.48" x2="23.70" y2="94.48" stroke="#999" stroke-width="0.6"/>
<text transform="translate(10.59,35.80) scale(1.000,1)" font-size="5.3" text-anchor="middle" style="stroke-width:0.3px">2</text>
<text transform="translate(13.53,35.80) scale(1.000,1)" font-size="5.3" text-anchor="middle" style="stroke-width:0.3px">5</text>
<text transform="translate(16.48,35.80) scale(1.000,1)" font-size="5.3" text-anchor="middle" style="stroke-width:0.3px">0</text>
<text transform="translate(19.43,35.80) scale(1.000,1)" font-size="5.3" text-anchor="middle" style="stroke-width:0.3px">0</text>
<line x1="21.4" y1="33.60" x2="23.70" y2="33.60" stroke="#999" stroke-width="0.6"/>
<text transform="translate(88.90,359.80) scale(1.000,1)" font-size="5.6" text-anchor="middle" style="stroke-width:0.3px">5</text>
<line x1="88.90" y1="353.0" x2="88.90" y2="355.00" stroke="#999" stroke-width="0.6"/>
<path d="M156.46,359.80 L156.99,359.80 L156.99,355.79 L156.60,355.79 Z M156.60,355.79 L156.85,355.88 L156.46,356.30 L155.39,357.00 L155.39,356.52 L156.18,356.08 Z" fill="#1c1c1c" stroke="#1c1c1c" stroke-width="0.18" stroke-linejoin="round"/>
<text transform="translate(159.46,359.80) scale(1.000,1)" font-size="5.6" text-anchor="middle" style="stroke-width:0.3px">0</text>
<line x1="157.90" y1="353.0" x2="157.90" y2="355.00" stroke="#999" stroke-width="0.6"/>
<path d="M225.46,359.80 L225.99,359.80 L225.99,355.79 L225.60,355.79 Z M225.60,355.79 L225.85,355.88 L225.46,356.30 L224.39,357.00 L224.39,356.52 L225.18,356.08 Z" fill="#1c1c1c" stroke="#1c1c1c" stroke-width="0.18" stroke-linejoin="round"/>
<text transform="translate(228.46,359.80) scale(1.000,1)" font-size="5.6" text-anchor="middle" style="stroke-width:0.3px">5</text>
<line x1="226.90" y1="353.0" x2="226.90" y2="355.00" stroke="#999" stroke-width="0.6"/>
<text transform="translate(294.34,359.80) scale(1.000,1)" font-size="5.6" text-anchor="middle" style="stroke-width:0.3px">2</text>
<text transform="translate(297.46,359.80) scale(1.000,1)" font-size="5.6" text-anchor="middle" style="stroke-width:0.3px">0</text>
<line x1="295.90" y1="353.0" x2="295.90" y2="355.00" stroke="#999" stroke-width="0.6"/>
<text transform="translate(366.73,340.20) scale(1.000,1)" font-size="5.3" text-anchor="middle" style="stroke-width:0.3px">0</text>
<line x1="368.2" y1="338.00" x2="371.20" y2="338.00" stroke="#999" stroke-width="0.6"/>
<text transform="translate(360.83,279.32) scale(1.000,1)" font-size="5.3" text-anchor="middle" style="stroke-width:0.3px">5</text>
<text transform="translate(363.78,279.32) scale(1.000,1)" font-size="5.3" text-anchor="middle" style="stroke-width:0.3px">0</text>
<text transform="translate(366.73,279.32) scale(1.000,1)" font-size="5.3" text-anchor="middle" style="stroke-width:0.3px">0</text>
<line x1="368.2" y1="277.12" x2="371.20" y2="277.12" stroke="#999" stroke-width="0.6"/>
<path d="M357.99,218.44 L358.50,218.44 L358.50,214.65 L358.12,214.65 Z M358.12,214.65 L358.36,214.73 L357.99,215.13 L356.99,215.79 L356.99,215.34 L357.73,214.92 Z" fill="#1c1c1c" stroke="#1c1c1c" stroke-width="0.18" stroke-linejoin="round"/>
<text transform="translate(360.83,218.44) scale(1.000,1)" font-size="5.3" text-anchor="middle" style="stroke-width:0.3px">0</text>
<text transform="translate(363.78,218.44) scale(1.000,1)" font-size="5.3" text-anchor="middle" style="stroke-width:0.3px">0</text>
<text transform="translate(366.73,218.44) scale(1.000,1)" font-size="5.3" text-anchor="middle" style="stroke-width:0.3px">0</text>
<line x1="368.2" y1="216.24" x2="371.20" y2="216.24" stroke="#999" stroke-width="0.6"/>
<path d="M357.99,157.56 L358.50,157.56 L358.50,153.77 L358.12,153.77 Z M358.12,153.77 L358.36,153.85 L357.99,154.25 L356.99,154.91 L356.99,154.46 L357.73,154.04 Z" fill="#1c1c1c" stroke="#1c1c1c" stroke-width="0.18" stroke-linejoin="round"/>
<text transform="translate(360.83,157.56) scale(1.000,1)" font-size="5.3" text-anchor="middle" style="stroke-width:0.3px">5</text>
<text transform="translate(363.78,157.56) scale(1.000,1)" font-size="5.3" text-anchor="middle" style="stroke-width:0.3px">0</text>
<text transform="translate(366.73,157.56) scale(1.000,1)" font-size="5.3" text-anchor="middle" style="stroke-width:0.3px">0</text>
<line x1="368.2" y1="155.36" x2="371.20" y2="155.36" stroke="#999" stroke-width="0.6"/>
<text transform="translate(357.89,96.68) scale(1.000,1)" font-size="5.3" text-anchor="middle" style="stroke-width:0.3px">2</text>
<text transform="translate(360.83,96.68) scale(1.000,1)" font-size="5.3" text-anchor="middle" style="stroke-width:0.3px">0</text>
<text transform="translate(363.78,96.68) scale(1.000,1)" font-size="5.3" text-anchor="middle" style="stroke-width:0.3px">0</text>
<text transform="translate(366.73,96.68) scale(1.000,1)" font-size="5.3" text-anchor="middle" style="stroke-width:0.3px">0</text>
<line x1="368.2" y1="94.48" x2="371.20" y2="94.48" stroke="#999" stroke-width="0.6"/>
<text transform="translate(357.89,35.80) scale(1.000,1)" font-size="5.3" text-anchor="middle" style="stroke-width:0.3px">2</text>
<text transform="translate(360.83,35.80) scale(1.000,1)" font-size="5.3" text-anchor="middle" style="stroke-width:0.3px">5</text>
<text transform="translate(363.78,35.80) scale(1.000,1)" font-size="5.3" text-anchor="middle" style="stroke-width:0.3px">0</text>
<text transform="translate(366.73,35.80) scale(1.000,1)" font-size="5.3" text-anchor="middle" style="stroke-width:0.3px">0</text>
<line x1="368.2" y1="33.60" x2="371.20" y2="33.60" stroke="#999" stroke-width="0.6"/>
<text transform="translate(438.75,359.80) scale(1.000,1)" font-size="5.6" text-anchor="middle" style="stroke-width:0.3px">5</text>
<line x1="438.75" y1="352.9" x2="438.75" y2="354.90" stroke="#999" stroke-width="0.6"/>
<path d="M508.46,359.80 L508.99,359.80 L508.99,355.79 L508.60,355.79 Z M508.60,355.79 L508.85,355.88 L508.46,356.30 L507.39,357.00 L507.39,356.52 L508.18,356.08 Z" fill="#1c1c1c" stroke="#1c1c1c" stroke-width="0.18" stroke-linejoin="round"/>
<text transform="translate(511.46,359.80) scale(1.000,1)" font-size="5.6" text-anchor="middle" style="stroke-width:0.3px">0</text>
<line x1="509.90" y1="352.9" x2="509.90" y2="354.90" stroke="#999" stroke-width="0.6"/>
<path d="M579.61,359.80 L580.14,359.80 L580.14,355.79 L579.75,355.79 Z M579.75,355.79 L580.00,355.88 L579.61,356.30 L578.54,357.00 L578.54,356.52 L579.33,356.08 Z" fill="#1c1c1c" stroke="#1c1c1c" stroke-width="0.18" stroke-linejoin="round"/>
<text transform="translate(582.61,359.80) scale(1.000,1)" font-size="5.6" text-anchor="middle" style="stroke-width:0.3px">5</text>
<line x1="581.05" y1="352.9" x2="581.05" y2="354.90" stroke="#999" stroke-width="0.6"/>
<text transform="translate(650.64,359.80) scale(1.000,1)" font-size="5.6" text-anchor="middle" style="stroke-width:0.3px">2</text>
<text transform="translate(653.76,359.80) scale(1.000,1)" font-size="5.6" text-anchor="middle" style="stroke-width:0.3px">0</text>
<line x1="652.20" y1="352.9" x2="652.20" y2="354.90" stroke="#999" stroke-width="0.6"/>
<text transform="translate(5.0,14.6) scale(0.9,1)" font-size="21.5" style="fill:#1a1212;stroke:none">A</text>
<text transform="translate(355.8,14.6) scale(0.88,1)" font-size="21.5" style="fill:#1a1212;stroke:none">B</text>
<text transform="translate(7.1,183.2) rotate(-90)" font-size="8.0" text-anchor="middle" fill="#222">Count</text>
<text transform="translate(353.6,183.0) rotate(-90)" font-size="8.0" text-anchor="middle" fill="#222">Count</text>
<text x="141.9" y="370.5" font-size="8.0" fill="#222">Total Cholesterol (mmol/L)</text>
<text x="492.8" y="370.5" font-size="8.0" fill="#222">Total Cholesterol (mmol/L)</text>
<text x="270.9" y="28.5" font-size="8.0" fill="#222">Gender</text>
<rect x="270.5" y="32.6" width="22.9" height="14.0" rx="0.6" fill="#F0F0EE" stroke="#3c3c3c" stroke-width="0.95"/>
<rect x="270.5" y="47.4" width="22.9" height="14.0" rx="0.6" fill="#BDBDBD" stroke="#3c3c3c" stroke-width="0.95"/>
<text x="294.8" y="42.55" font-size="8.0" fill="#222">Male</text>
<text x="294.8" y="57.2" font-size="8.0" fill="#222">Female</text>
<text x="572.1" y="31.9" font-size="7.85" fill="#222">Race</text>
<rect x="570.3" y="38.20" width="24.0" height="15.5" rx="0.6" fill="#EFF3FF" stroke="#3a3a3a" stroke-width="1.0"/>
<text x="602.9" y="49.85" font-size="8.0" fill="#222">Non-Hispanic White</text>
<rect x="570.3" y="54.65" width="24.0" height="15.5" rx="0.6" fill="#BDD7E7" stroke="#3a3a3a" stroke-width="1.0"/>
<text x="602.9" y="65.10" font-size="8.0" fill="#222">Non-Hispanic Black</text>
<rect x="570.3" y="71.10" width="24.0" height="15.5" rx="0.6" fill="#6BAED6" stroke="#3a3a3a" stroke-width="1.0"/>
<text x="602.9" y="81.85" font-size="8.0" fill="#222">Mexican American</text>
<rect x="570.3" y="87.55" width="24.0" height="15.5" rx="0.6" fill="#2171B5" stroke="#3a3a3a" stroke-width="1.0"/>
<text x="602.9" y="97.10" font-size="8.0" fill="#222">Other race/ethnicity</text>
</svg></body></html>
